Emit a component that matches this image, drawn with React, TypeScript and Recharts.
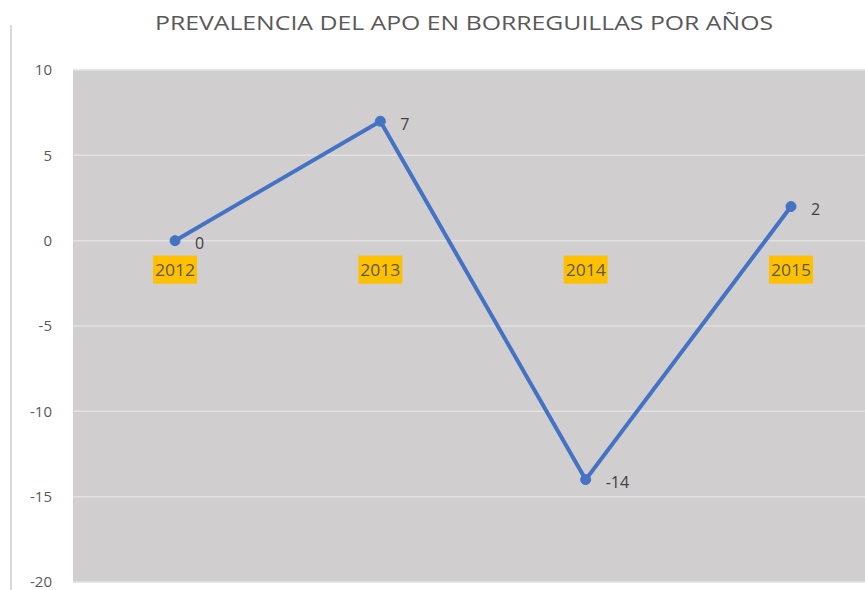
import { LineChart, Line, XAxis, YAxis, CartesianGrid, LabelList, ReferenceDot } from 'recharts';

const years = ['2012', '2013', '2014', '2015'];
const prevalence = [0, 7, -14, 2];
const yTicks = [-20, -15, -10, -5, 0, 5, 10];

const data = years.map((year, i) => ({ year, value: prevalence[i] }));

const FONT = '"Open Sans", "Liberation Sans", sans-serif';

function YearTag(props: any) {
  const { cx, cy, label } = props;
  return (
    <g>
      <rect x={cx - 22} y={cy + 15} width={44} height={28} fill="#ffc000" />
      <text x={cx} y={cy + 35} textAnchor="middle" fontSize={16} fill="#595959" fontFamily={FONT} textLength={40} lengthAdjust="spacingAndGlyphs">
        {label}
      </text>
    </g>
  );
}

export default function App() {
  return (
    <div style={{ position: 'absolute', left: 0, top: 0, width: 865, height: 590, overflow: 'hidden', background: '#fff' }}>
      <svg width={865} height={60} style={{ position: 'absolute', left: 0, top: 0 }}>
        <text x={464} y={30} textAnchor="middle" fontSize={20} fill="#595959" fontFamily={FONT} textLength={618} lengthAdjust="spacingAndGlyphs">
          PREVALENCIA DEL APO EN BORREGUILLAS POR AÑOS
        </text>
      </svg>
      <svg width={13} height={590} style={{ position: 'absolute', left: 0, top: 0 }}>
        <line x1={11} y1={25} x2={11} y2={590} stroke="#d9d9d9" strokeWidth={2} />
      </svg>
      <div style={{ position: 'absolute', left: 0, top: 0 }}>
        <LineChart width={900} height={590} data={data} margin={{ top: 70, right: 7, bottom: 8, left: 0 }}>
          <CartesianGrid vertical={false} fill="#d0cece" stroke="#e2e0e0" strokeWidth={1.5} />
          <XAxis dataKey="year" hide padding={{ left: 102, right: 102 }} />
          <YAxis
            width={73}
            domain={[-20, 10]}
            ticks={yTicks}
            interval={0}
            axisLine={false}
            tickLine={false}
            tickSize={0}
            tickMargin={21}
            tick={{ fontSize: 15, fill: '#595959', fontFamily: FONT }}
          />
          {years.map((y) => (
            <ReferenceDot key={y} x={y} y={0} r={0} shape={(p: any) => <YearTag {...p} label={y} />} />
          ))}
          <Line
            type="linear"
            dataKey="value"
            stroke="#4472c4"
            strokeWidth={4}
            dot={{ r: 5, fill: '#4472c4', stroke: '#4472c4', strokeWidth: 1 }}
            isAnimationActive={false}
          >
            <LabelList dataKey="value" position="right" offset={20} dy={3} fontSize={16} fill="#404040" fontFamily={FONT} />
          </Line>
        </LineChart>
      </div>
    </div>
  );
}
